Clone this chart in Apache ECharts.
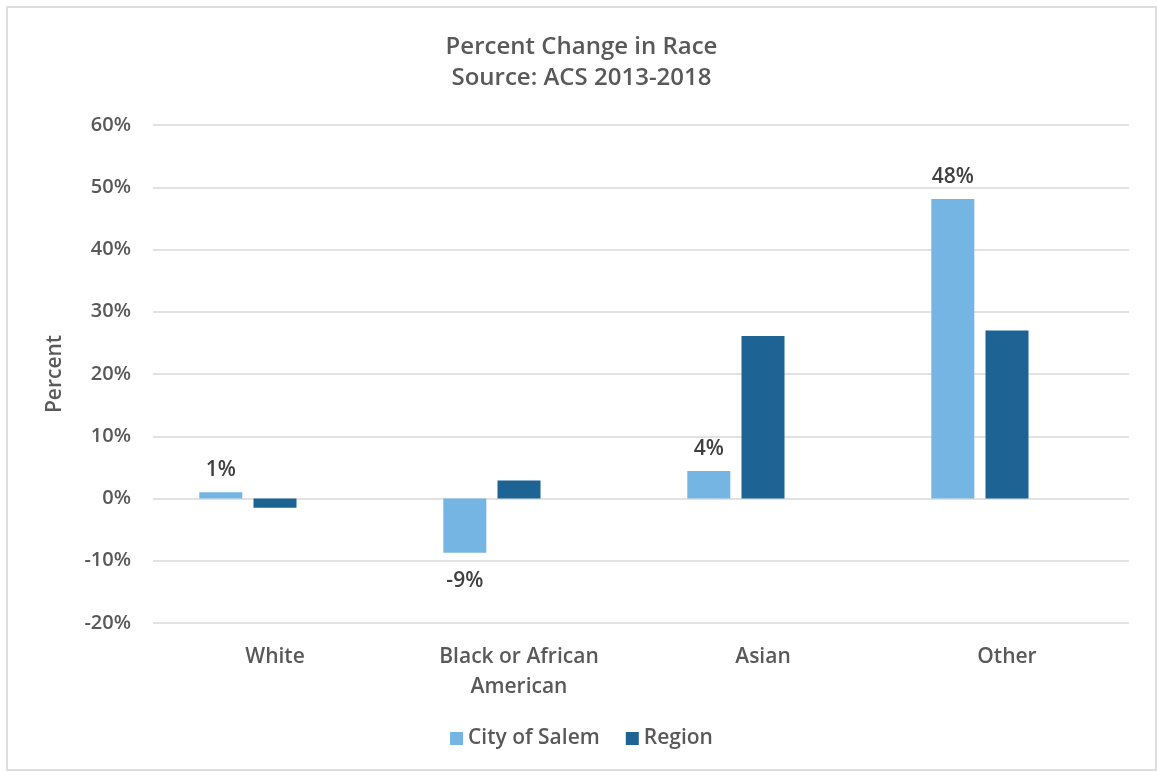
<!DOCTYPE html>
<html>
<head>
<meta charset="utf-8">
<script src="https://cdn.jsdelivr.net/npm/echarts@6/dist/echarts.min.js"></script>
<style>
  html, body { margin: 0; padding: 0; background: #fff; }
  #chart {
    position: absolute; left: 6px; top: 6px;
    width: 1151px; height: 765px;
    border: 2px solid #dedede; box-sizing: border-box;
  }
</style>
</head>
<body>
<div id="chart"></div>
<script>
// data
const categories = ["White", "Black or African\nAmerican", "Asian", "Other"];
const citySalem = [1.0, -8.7, 4.4, 48.1];
const region = [-1.5, 2.9, 26.1, 27.0];
const emptySlot = [null, null, null, null]; // third, unnamed slot the original layout keeps
const seriesNames = ["City of Salem", "Region"];

const FONT = "Open Sans";
const TEXT = "#595959";
const W = 600;

// negative labels sit a bit further from the bar end
const cityData = citySalem.map(v => ({
  value: v,
  label: { distance: v < 0 ? 18 : 12 }
}));

const chart = echarts.init(document.getElementById("chart"));
chart.setOption({
  animation: false,
  textStyle: { fontFamily: FONT },
  title: {
    text: "Percent Change in Race\nSource: ACS 2013-2018",
    left: "center",
    top: 19,
    textStyle: { fontFamily: FONT, fontSize: 24, fontWeight: W, color: TEXT, lineHeight: 31 }
  },
  legend: {
    data: seriesNames,
    bottom: 15,
    left: "center",
    itemWidth: 13,
    itemHeight: 13,
    itemGap: 26,
    icon: "rect",
    textStyle: { fontFamily: FONT, fontSize: 21, fontWeight: W, color: TEXT }
  },
  grid: { left: 145, right: 26, top: 117, bottom: 146, containLabel: false },
  xAxis: {
    type: "category",
    data: categories,
    axisLine: { show: false },
    axisTick: { show: false },
    axisLabel: {
      fontFamily: FONT, fontSize: 21, fontWeight: W, color: TEXT, lineHeight: 30, margin: 19, interval: 0
    }
  },
  yAxis: {
    type: "value",
    min: -20, max: 60, interval: 10,
    name: "Percent",
    nameLocation: "middle",
    nameRotate: 90,
    nameGap: 87,
    nameTextStyle: { fontFamily: FONT, fontSize: 21, fontWeight: W, color: TEXT },
    axisLabel: {
      formatter: "{value}%", fontFamily: FONT, fontSize: 20, fontWeight: W, color: TEXT, margin: 22
    },
    axisLine: { show: false },
    axisTick: { show: false },
    splitLine: { lineStyle: { color: "#d9d9d9", width: 1.5 } }
  },
  series: [
    {
      name: seriesNames[0],
      type: "bar",
      data: cityData,
      barWidth: 43,
      barGap: "26%",
      itemStyle: { color: "#75b5e3" },
      label: {
        show: true,
        position: "outside",
        formatter: p => Math.round(p.value) + "%",
        fontFamily: FONT, fontSize: 21, fontWeight: W, color: "#404040"
      }
    },
    {
      name: seriesNames[1],
      type: "bar",
      data: region,
      barWidth: 43,
      itemStyle: { color: "#1d6394" }
    },
    {
      name: "",
      type: "bar",
      data: emptySlot,
      barWidth: 43
    }
  ]
});
</script>
</body>
</html>
